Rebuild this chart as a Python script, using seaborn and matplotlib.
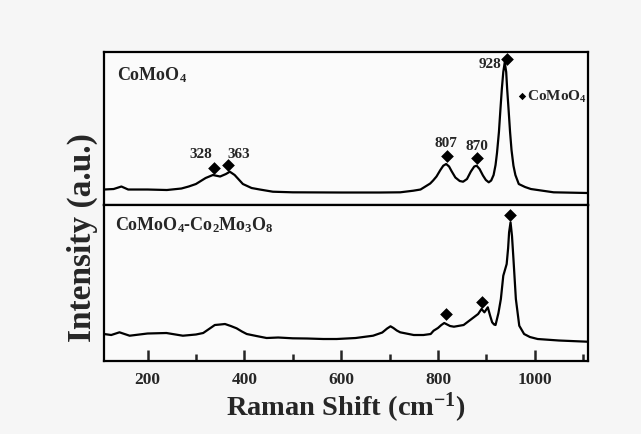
import numpy as np
import pandas as pd
import matplotlib
matplotlib.use('Agg')
import matplotlib.pyplot as plt
import seaborn as sns

# ---- data (intensity in arbitrary units) ----
shift_top = [110, 130, 146, 160, 200, 240, 270, 285, 300, 320, 335, 350, 362, 370, 380,
             397, 415, 432, 459, 500, 600, 680, 722, 749, 764, 784, 790, 797, 805, 811,
             817, 823, 828, 836, 845, 852, 860, 868, 875, 880, 886, 893, 899, 905, 910,
             915, 919, 922, 926, 929, 932, 935, 938, 941, 943, 946, 949, 952, 956, 960,
             967, 980, 992, 1039, 1110]
int_top = [15.5, 16, 18.5, 15.5, 15.5, 15, 16.5, 18.5, 21, 27, 30, 28.5, 31, 33.3, 30,
           21, 17, 15.5, 13.3, 12.7, 12.5, 12.5, 12.7, 14.3, 15.5, 21.5, 24.5, 28.5, 35, 39.3,
           41, 38.5, 34, 27.5, 24, 23.3, 26, 33.5, 38.5, 39.3, 36, 29.5, 25, 22.7, 24.5,
           30, 40, 52, 73, 95, 116, 133, 142.7, 133, 116, 95, 73, 55, 39.3, 30,
           21, 18, 16, 12.7, 12]

shift_bot = [110, 125, 142, 163, 200, 239, 273, 300, 315, 330, 339, 350, 360, 372, 384,
             395, 405, 425, 446, 470, 500, 530, 563, 591, 630, 666, 685, 695, 702, 708,
             715, 722, 750, 770, 785, 791, 800, 807, 813, 819, 825, 833, 853, 874, 883,
             890, 896, 903, 908, 912, 916, 919, 925, 930, 935, 942, 945, 947, 950, 953,
             956, 961, 968, 978, 990, 1006, 1050, 1109]
int_bot = [27, 26, 28.7, 25.3, 27.5, 28, 25.3, 26.5, 28, 33, 36, 36.5, 37, 35, 32.7,
           29.5, 27, 25, 23, 23.5, 22.7, 22.5, 22, 22, 23, 25.3, 28.5, 32.5, 34.7, 33,
           30.5, 28.7, 26, 26, 27, 30.3, 33, 36, 38, 36.5, 35, 34.3, 36, 43.7, 47,
           52, 48.7, 53.7, 45, 38.7, 36.5, 36, 48, 62, 85.3, 97, 113, 128.7, 138.7, 125,
           102, 62, 35.3, 27, 24, 22, 20.5, 19.3]

# marked peaks (diamonds) and their labels
peaks_top_x = [337, 367, 818, 881, 942]
peaks_top_y = [36.7, 40.3, 49.3, 46.7, 146]
peak_labels = ['328', '363', '807', '870', '928']
peaks_bot_x = [816, 890, 949]
peaks_bot_y = [47, 59.3, 146.3]

df_top = pd.DataFrame({'shift': shift_top, 'intensity': int_top})
df_bot = pd.DataFrame({'shift': shift_bot, 'intensity': int_bot})

sns.set_style('ticks')
plt.rcParams['font.family'] = ['Liberation Serif', 'DejaVu Serif']
plt.rcParams['font.weight'] = 'bold'
plt.rcParams['mathtext.fontset'] = 'custom'
plt.rcParams['mathtext.rm'] = 'Liberation Serif:bold'
plt.rcParams['mathtext.bf'] = 'Liberation Serif:bold'
plt.rcParams['mathtext.it'] = 'Liberation Serif:bold'

fig = plt.figure(figsize=(6.41, 4.35), dpi=100, facecolor='#f6f6f6')
left, right = 0.1622, 0.9173
ax1 = fig.add_axes([left, 0.5264, right - left, 0.8782 - 0.5264])
ax2 = fig.add_axes([left, 0.1678, right - left, 0.5264 - 0.1678])

for ax in (ax1, ax2):
    ax.set_facecolor('#fbfbfb')
    ax.set_xlim(110, 1110)
    for s in ax.spines.values():
        s.set_linewidth(1.6)
        s.set_color('black')
    ax.set_yticks([])

sns.lineplot(data=df_top, x='shift', y='intensity', ax=ax1, color='black', lw=1.6)
sns.lineplot(data=df_bot, x='shift', y='intensity', ax=ax2, color='black', lw=1.6)
ax1.set_ylim(0, 153)
ax2.set_ylim(0, 156)
ax1.set_ylabel('')
ax2.set_ylabel('')
ax1.set_xlabel('')

sns.scatterplot(x=peaks_top_x, y=peaks_top_y, ax=ax1, marker='D', s=42,
                color='black', edgecolor='black', linewidth=0)
sns.scatterplot(x=peaks_bot_x, y=peaks_bot_y, ax=ax2, marker='D', s=42,
                color='black', edgecolor='black', linewidth=0)

# peak labels
lab_pos = [(311, 52), (389, 52), (817, 62.7), (881, 59.3), (931, 141)]
for (lx, ly), t in zip(lab_pos, peak_labels):
    ha = 'right' if t == '928' else 'center'
    ax1.text(lx, ly, t, ha=ha, va='center', fontsize=11, fontweight='bold')

# legend-like marker
ax1.scatter([973], [109], marker='D', s=14, color='black', linewidth=0)
ax1.text(983, 109, r'CoMoO$_4$', ha='left', va='center', fontsize=11, fontweight='bold')

ax1.text(137, 131, r'CoMoO$_4$', ha='left', va='center', fontsize=13, fontweight='bold')
ax2.text(133, 137, r'CoMoO$_4$-Co$_2$Mo$_3$O$_8$', ha='left', va='center',
         fontsize=13, fontweight='bold')

ax1.tick_params(axis='x', which='both', bottom=False, labelbottom=False)
ax2.set_xticks([200, 400, 600, 800, 1000])
ax2.set_xticks([300, 500, 700, 900, 1100], minor=True)
ax2.tick_params(axis='x', which='major', direction='in', length=8, width=1.8,
                labelsize=12.5, pad=7)
ax2.tick_params(axis='x', which='minor', direction='in', length=5, width=1.8)
for lbl in ax2.get_xticklabels():
    lbl.set_fontweight('bold')

ax2.set_xlabel(r'Raman Shift (cm$^{-1}$)', fontsize=20.5, fontweight='bold', labelpad=2)
fig.text(0.128, 0.453, 'Intensity (a.u.)', rotation=90, ha='center', va='center',
         fontsize=24, fontweight='bold')

fig.savefig('out.png', dpi=100, facecolor=fig.get_facecolor())
